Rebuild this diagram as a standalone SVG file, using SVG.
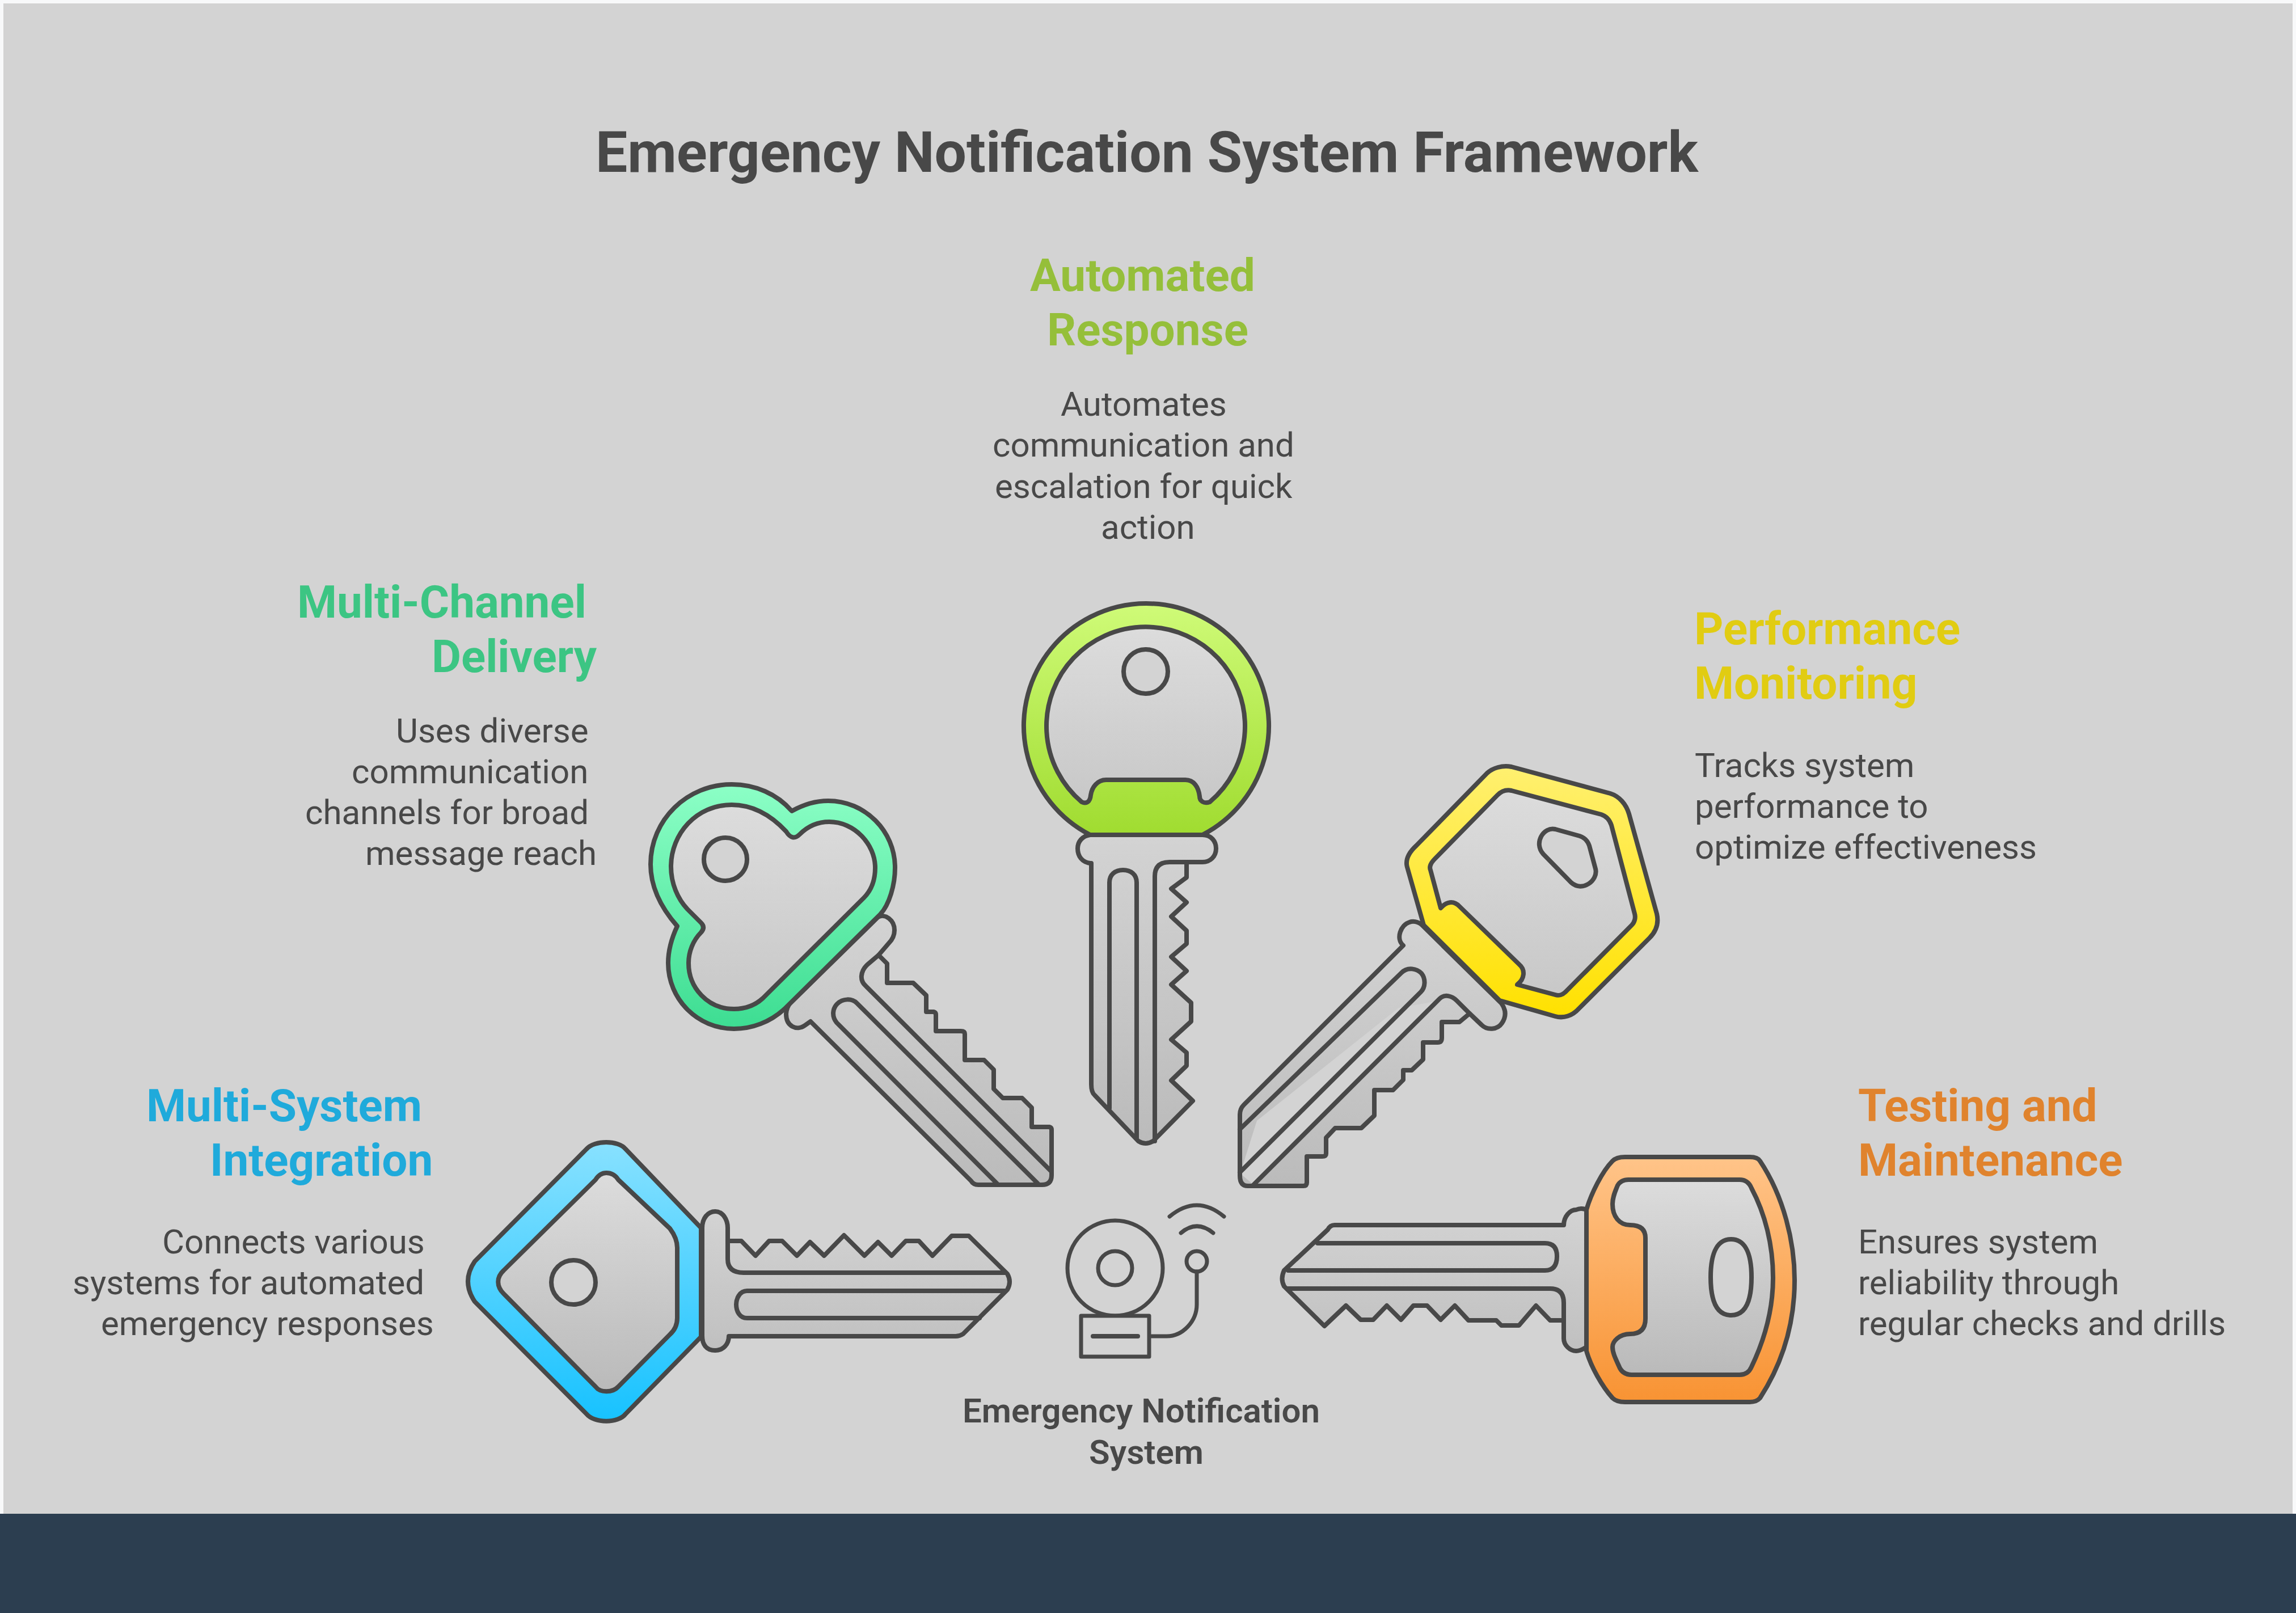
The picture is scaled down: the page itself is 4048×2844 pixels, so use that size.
<svg xmlns="http://www.w3.org/2000/svg" width="4048" height="2844" viewBox="0 0 4048 2844">
<style>
.o{stroke:#484848;stroke-width:8;stroke-linejoin:round;stroke-linecap:round}
.l{fill:none}
.h{fill:url(#in)}
.h2{fill:url(#in2)}
.b{fill:url(#bl)}
.b2{fill:url(#bl2)}
.n{fill:#d3d3d3}
text{font-family:Roboto,"Liberation Sans",sans-serif}
.t{font-size:100px;font-weight:700;fill:#484848}
.k{font-size:80px;font-weight:700}
.d{font-size:60px;font-weight:400;fill:#484848}
.c{font-size:60px;font-weight:600;fill:#484848}
</style>
<defs>
<linearGradient id="in" x1="0" y1="0" x2="0" y2="1"><stop offset="0" stop-color="#dcdcdc"/><stop offset="1" stop-color="#c8c8c8"/></linearGradient>
<linearGradient id="in2" x1="0" y1="0" x2="0" y2="1"><stop offset="0" stop-color="#dcdcdc"/><stop offset="1" stop-color="#bababa"/></linearGradient>
<linearGradient id="bl" x1="0" y1="0" x2="0" y2="1"><stop offset="0" stop-color="#d3d3d3"/><stop offset="1" stop-color="#bbbbbb"/></linearGradient>
<linearGradient id="bl2" x1="0" y1="0" x2="0" y2="1"><stop offset="0" stop-color="#d3d3d3"/><stop offset="1" stop-color="#c0c0c0"/></linearGradient>
<linearGradient id="gg" x1="0" y1="0" x2="0" y2="1"><stop offset="0" stop-color="#cffb78"/><stop offset="1" stop-color="#a0dc30"/></linearGradient>
<linearGradient id="gt" x1="0" y1="0" x2="0" y2="1"><stop offset="0" stop-color="#8cffc6"/><stop offset="1" stop-color="#3ddd92"/></linearGradient>
<linearGradient id="gy" x1="0" y1="0" x2="0" y2="1"><stop offset="0" stop-color="#fff070"/><stop offset="1" stop-color="#ffe100"/></linearGradient>
<linearGradient id="gb" x1="0" y1="0" x2="0" y2="1"><stop offset="0" stop-color="#88e1ff"/><stop offset="1" stop-color="#17c2ff"/></linearGradient>
<linearGradient id="go" x1="0" y1="0" x2="0" y2="1"><stop offset="0" stop-color="#ffc489"/><stop offset="1" stop-color="#f89333"/></linearGradient>
</defs>
<rect width="4048" height="2844" fill="#f8f9fa"/>
<rect x="6" y="6" width="4036" height="2663" fill="#d3d3d3"/>
<rect y="2669" width="4048" height="175" fill="#2c3e50"/>

<text class="t" x="1050" y="303">Emergency Notification System Framework</text>

<g id="key-automated-response">
<path class="o b" d="M1922,1472H2120C2136,1472 2144,1484 2144,1496C2144,1510 2134,1520 2120,1520H2092V1547L2065,1567L2092,1591L2065,1616L2092,1641V1664L2065,1687L2092,1712L2065,1736L2100,1768V1801L2065,1833L2092,1856V1879L2065,1905L2103,1941L2033,2012Q2020,2020 2007,2012L1930,1931Q1924,1926 1924,1912V1522H1922C1908,1520 1900,1510 1900,1496C1900,1484 1908,1474 1922,1472Z"/>
<path class="o l" d="M2036,2012V1545Q2036,1520 2062,1520H2092"/>
<path class="o l" d="M1956,1954V1556C1956,1542 1966,1534 1980,1534C1994,1534 2004,1542 2004,1556V2006"/>
<path class="o" fill="url(#gg)" d="M1922,1472A216,216 0 1 1 2120,1472Z"/>
<path class="o h" d="M1907,1414A175,175 0 1 1 2133,1414C2122,1418 2115,1412 2115,1404C2113,1388 2105,1375 2090,1375H1950C1935,1375 1925,1388 1923,1402C1922,1414 1915,1418 1907,1414Z"/>
<circle class="o n" cx="2020" cy="1184" r="39"/>
<text class="k" x="1816" y="513" fill="#95bf3a">Automated</text>
<text class="k" x="1846" y="609" fill="#95bf3a">Response</text>
<text class="d" x="1870" y="733">Automates</text>
<text class="d" x="1750" y="805">communication and</text>
<text class="d" x="1754" y="878">escalation for quick</text>
<text class="d" x="1941" y="950">action</text>
</g>

<g id="key-multi-channel-delivery">
<path class="o b" d="M1548,1617C1560,1610 1577,1622 1577,1640C1577,1650 1572,1658 1567,1663L1549,1684L1564,1699V1733H1610L1633,1755V1784H1646Q1650,1785 1650,1789V1818H1694Q1701,1818 1701,1823V1869H1735L1752,1886V1920L1768,1936H1802L1819,1953V1987H1850Q1854,1988 1854,1992V2072Q1854,2089 1837,2089H1725Q1716,2089 1712,2082L1429,1801L1419,1808C1405,1818 1386,1810 1386,1788C1386,1780 1390,1772 1393,1769Z"/>
<path class="o l" d="M1549,1684L1529,1701C1516,1714 1516,1729 1526,1738L1853,2065"/>
<path class="o l" d="M1758,2087L1475,1803C1466,1792 1468,1778 1476,1770C1486,1760 1502,1760 1511,1769L1830,2087"/>
<path class="o" fill="url(#gt)" d="M1396,1430C1370,1400 1332,1383 1290,1383C1212,1383 1147,1445 1147,1524C1147,1565 1165,1600 1194,1633C1186,1650 1178,1675 1178,1698C1178,1762 1230,1814 1294,1814C1326,1814 1358,1802 1383,1779L1552,1612C1568,1595 1578,1560 1578,1530C1578,1465 1525,1412 1460,1412C1436,1412 1414,1420 1396,1430Z"/>
<path class="o h" d="M1386,1466C1358,1436 1326,1419 1290,1419C1228,1419 1183,1470 1183,1528C1183,1558 1195,1585 1212,1603L1236,1627Q1244,1635 1236,1644C1222,1658 1214,1678 1214,1698C1214,1742 1248,1779 1294,1779C1314,1779 1332,1772 1345,1760L1523,1583C1536,1570 1543,1552 1543,1530C1543,1488 1506,1449 1462,1449C1440,1449 1423,1458 1410,1471Q1397,1484 1386,1466Z"/>
<circle class="o n" cx="1279" cy="1515" r="38"/>
<text class="k" x="524" y="1089" fill="#3cc583">Multi-Channel</text>
<text class="k" x="761" y="1185" fill="#3cc583">Delivery</text>
<text class="d" x="698" y="1309">Uses diverse</text>
<text class="d" x="620" y="1381">communication</text>
<text class="d" x="538" y="1453">channels for broad</text>
<text class="d" x="644" y="1525">message reach</text>
</g>

<g id="key-performance-monitoring">
<path class="o b" d="M2507,1631C2500,1624 2490,1624 2485,1626C2470,1630 2460,1655 2474,1667L2193,1948Q2186,1955 2186,1965V2073Q2186,2091 2200,2091H2298Q2304,2091 2304,2085V2039H2331Q2338,2039 2338,2034V2006L2354,1989H2400L2423,1967V1922H2456L2474,1904V1887H2489L2509,1868V1838H2535Q2542,1838 2542,1830V1802H2573L2591,1787L2612,1807C2622,1817 2640,1816 2648,1804C2656,1792 2655,1780 2647,1769Z"/>
<path fill="#d3d3d3" d="M2216,1976L2466,1777L2530,1766L2209,2088L2190,2072V2058Z"/>
<path class="o l" d="M2209,2090L2538,1761C2547,1752 2560,1756 2568,1764L2591,1787"/>
<path class="o l" d="M2186,1991L2471,1715C2482,1704 2498,1708 2506,1716C2514,1726 2513,1741 2505,1749L2186,2067"/>
<path class="o" fill="url(#gy)" d="M2510,1631L2481,1529C2477,1515 2484,1503 2497,1491L2622,1363C2632,1354 2648,1349 2665,1352L2839,1399C2855,1404 2867,1418 2872,1435L2921,1611C2925,1628 2920,1642 2908,1654L2783,1779C2772,1791 2757,1796 2742,1792L2644,1764Z"/>
<path class="o h" d="M2540,1601L2522,1534C2519,1527 2524,1520 2530,1514L2640,1402C2647,1395 2656,1392 2665,1394L2823,1436C2832,1439 2838,1446 2841,1455L2882,1611C2884,1618 2882,1626 2877,1631L2760,1749C2755,1754 2748,1756 2742,1754L2675,1736C2688,1726 2690,1710 2678,1700L2573,1598C2562,1587 2550,1590 2540,1601Z"/>
<path class="o n" d="M2742,1462L2785,1474C2794,1477 2799,1482 2802,1491L2813,1532C2818,1552 2790,1574 2770,1556L2721,1506C2703,1486 2722,1457 2742,1462Z"/>
<text class="k" x="2987" y="1136" fill="#e1cc12">Performance</text>
<text class="k" x="2987" y="1232" fill="#e1cc12">Monitoring</text>
<text class="d" x="2988" y="1370">Tracks system</text>
<text class="d" x="2988" y="1442">performance to</text>
<text class="d" x="2988" y="1514">optimize effectiveness</text>
</g>

<g id="key-multi-system-integration">
<path class="o" fill="url(#gb)" d="M1236,2165L1103,2026C1090,2010 1048,2010 1034,2026L837,2224Q813,2259 837,2295L1034,2493C1048,2510 1090,2510 1103,2493L1236,2357Z"/>
<path class="o h2" d="M1069,2068C1078,2068 1085,2072 1090,2080L1181,2166C1190,2178 1194,2190 1194,2200V2324C1194,2335 1190,2345 1181,2353L1090,2445C1080,2456 1058,2456 1050,2445L888,2281C875,2268 875,2252 888,2240L1050,2080C1055,2072 1062,2068 1069,2068Z"/>
<circle class="o n" cx="1011" cy="2261" r="39"/>
<path class="o b2" d="M1238,2165C1238,2148 1248,2136 1261,2136C1274,2136 1283,2150 1283,2165V2188H1307L1332,2214L1356,2188H1379L1405,2214L1428,2190L1453,2214L1488,2178L1524,2214L1548,2190L1572,2214L1597,2188H1620L1644,2214L1678,2179H1708L1776,2246Q1784,2260 1776,2274L1698,2352Q1692,2356 1685,2356H1285C1285,2370 1275,2381 1261,2381C1245,2381 1238,2370 1238,2355Z"/>
<path class="o l" d="M1283,2188V2220Q1283,2244 1311,2244H1772"/>
<path class="o l" d="M1773,2276H1317C1304,2276 1298,2290 1298,2300C1298,2312 1304,2324 1317,2324H1727"/>
<text class="k" x="258" y="1977" fill="#1faadb">Multi-System</text>
<text class="k" x="370" y="2073" fill="#1faadb">Integration</text>
<text class="d" x="286" y="2210">Connects various</text>
<text class="d" x="128" y="2282">systems for automated</text>
<text class="d" x="178" y="2354">emergency responses</text>
</g>

<g id="key-testing-maintenance">
<path class="o" fill="url(#go)" d="M2797,2133C2805,2105 2825,2065 2843,2047Q2850,2040 2865,2040H3085C3095,2040 3100,2042 3103,2047C3145,2110 3164,2190 3164,2257C3164,2330 3145,2400 3103,2465Q3097,2472 3085,2472H2865Q2850,2472 2843,2465C2825,2445 2805,2410 2797,2382Z"/>
<path class="o h2" d="M2871,2080H3067Q3082,2080 3088,2095C3112,2140 3126,2195 3126,2253C3126,2310 3112,2360 3088,2410Q3082,2424 3067,2424H2877Q2860,2424 2854,2408C2848,2395 2843,2385 2843,2375C2843,2365 2855,2352 2874,2352Q2901,2352 2901,2325V2183Q2901,2160 2874,2160C2855,2160 2843,2145 2843,2123C2843,2110 2848,2100 2852,2090Q2858,2080 2871,2080Z"/>
<path class="o n" d="M3052,2185C3074,2185 3088,2205 3088,2252C3088,2300 3074,2319 3052,2319C3030,2319 3016,2300 3016,2252C3016,2205 3030,2185 3052,2185Z"/>
<path class="o b2" d="M2797,2133C2790,2130 2785,2130 2779,2133C2768,2133 2757,2145 2757,2160H2353Q2345,2160 2341,2168L2264,2240Q2257,2255 2264,2268L2335,2338L2373,2302L2399,2327H2421L2445,2302L2470,2327L2492,2302H2516L2540,2327L2565,2302L2589,2328H2638L2647,2337H2678L2708,2302L2733,2328H2757V2360C2757,2372 2768,2382 2779,2382C2787,2382 2792,2378 2797,2375Z"/>
<path class="o l" d="M2271,2272H2733Q2757,2272 2757,2297V2328"/>
<path class="o l" d="M2323,2192H2724Q2745,2192 2745,2215Q2745,2240 2724,2240H2271"/>
<text class="k" x="3276" y="1977" fill="#e0832d">Testing and</text>
<text class="k" x="3276" y="2073" fill="#e0832d">Maintenance</text>
<text class="d" x="3276" y="2210">Ensures system</text>
<text class="d" x="3276" y="2282">reliability through</text>
<text class="d" x="3276" y="2354">regular checks and drills</text>
</g>

<g id="node-emergency-notification-system">
<circle class="o n" cx="1966" cy="2236" r="84" style="stroke-width:7"/>
<circle class="o n" cx="1966" cy="2236" r="30" style="stroke-width:7"/>
<rect class="o n" x="1906" y="2320" width="120" height="72" style="stroke-width:7"/>
<path class="o l" d="M1927,2356H2006"/>
<circle class="o l" cx="2110" cy="2224" r="18" style="stroke-width:7"/>
<path class="o l" d="M2110,2242V2300C2110,2330 2085,2356 2057,2356H2030" style="stroke-width:7"/>
<path class="o l" d="M2062,2145Q2110,2105 2158,2145" style="stroke-width:7"/>
<path class="o l" d="M2082,2174Q2110,2150 2139,2174" style="stroke-width:7"/>
<text class="c" x="1697" y="2508">Emergency Notification</text>
<text class="c" x="1920" y="2581">System</text>
</g>
</svg>
